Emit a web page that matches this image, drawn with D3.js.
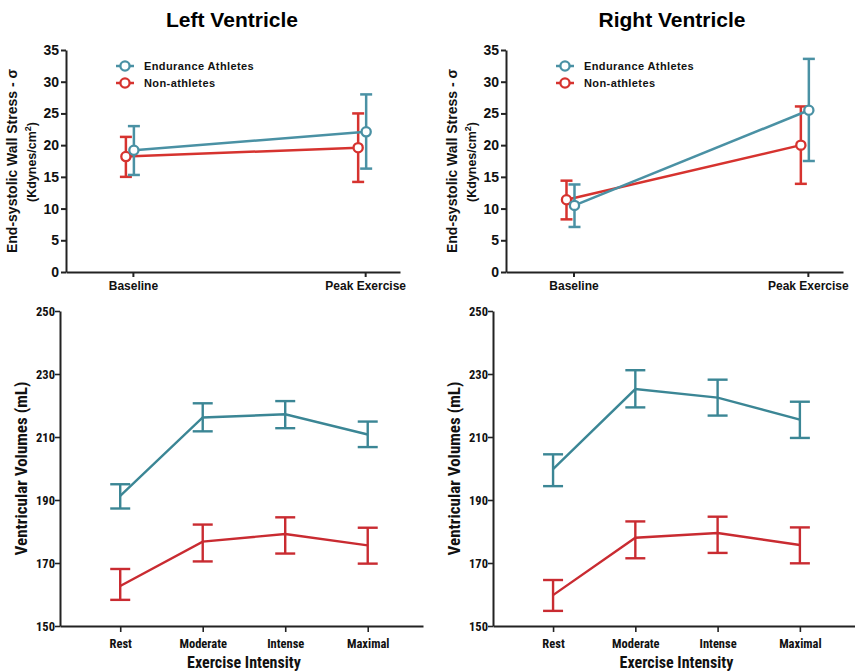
<!DOCTYPE html>
<html><head><meta charset="utf-8">
<script src="https://cdn.jsdelivr.net/npm/d3@7"></script>
<style>
body{margin:0;background:#fff;}
svg{display:block;}
</style></head>
<body>
<svg id="chart" width="855" height="672"></svg>
<script>
// ---- Data ----
const stressCategories = ["Baseline", "Peak Exercise"];
const stressTicks = [0, 5, 10, 15, 20, 25, 30, 35];
const lvStressAthletes = [19.2, 22.1];
const lvStressAthletesLow = [15.3, 16.3];
const lvStressAthletesHigh = [23.0, 28.0];
const lvStressNon = [18.2, 19.6];
const lvStressNonLow = [15.0, 14.2];
const lvStressNonHigh = [21.3, 25.0];
const rvStressAthletes = [10.5, 25.5];
const rvStressAthletesLow = [7.1, 17.5];
const rvStressAthletesHigh = [13.8, 33.6];
const rvStressNon = [11.4, 20.0];
const rvStressNonLow = [8.3, 13.9];
const rvStressNonHigh = [14.4, 26.1];

const volCategories = ["Rest", "Moderate", "Intense", "Maximal"];
const volTicks = [150, 170, 190, 210, 230, 250];
const lvVolAthletes = [191.3, 216.2, 217.2, 210.8];
const lvVolAthletesLow = [187.3, 211.8, 212.8, 206.8];
const lvVolAthletesHigh = [195.0, 220.7, 221.4, 214.9];
const lvVolNon = [162.7, 176.8, 179.2, 175.6];
const lvVolNonLow = [158.3, 170.5, 173.0, 169.8];
const lvVolNonHigh = [168.1, 182.2, 184.5, 181.2];
const rvVolAthletes = [199.8, 225.2, 222.5, 215.5];
const rvVolAthletesLow = [194.4, 219.4, 216.8, 209.7];
const rvVolAthletesHigh = [204.5, 231.2, 228.2, 221.2];
const rvVolNon = [159.8, 178.0, 179.5, 175.7];
const rvVolNonLow = [154.8, 171.5, 173.2, 169.9];
const rvVolNonHigh = [164.6, 183.2, 184.7, 181.3];

const seriesNames = ["Endurance Athletes", "Non-athletes"];
const titles = ["Left Ventricle", "Right Ventricle"];

// ---- Styles ----
const tealTop = "#4a91a4", redTop = "#d6332f";
const tealBot = "#3b8695", redBot = "#c92b31";
const armo = "Liberation Sans, Arial, sans-serif";
const narrow = "'Liberation Sans Narrow', 'Arial Narrow', 'Roboto Condensed', sans-serif";

const svg = d3.select("#chart");

function mk(arr, lo, hi){ return arr.map((v,i)=>({i, v, lo: lo[i], hi: hi[i]})); }

// ---------- Top panels ----------
function stressPanel(cfg){
  const g = svg.append("g");
  const x = d3.scaleLinear().domain([-0.288, 1.15]).range([cfg.x0, cfg.x1]);
  const y = d3.scaleLinear().domain([0, 35]).range([272, 50]);

  g.append("text").attr("x", cfg.titleX).attr("y", 27).attr("text-anchor","middle")
    .attr("font-family", armo).attr("font-weight","bold").attr("font-size", 21).text(cfg.title);

  const yAxis = g.append("g").attr("transform", `translate(${cfg.x0},0)`)
    .call(d3.axisLeft(y).tickValues(stressTicks).tickSize(5).tickSizeOuter(0));
  const xAxis = g.append("g").attr("transform", `translate(0,272)`)
    .call(d3.axisBottom(x).tickValues([0,1]).tickFormat(i=>stressCategories[i]).tickSize(5).tickSizeOuter(0));
  [yAxis, xAxis].forEach(a=>{
    a.select(".domain").attr("stroke","#222").attr("stroke-width",2);
    a.selectAll(".tick line").attr("stroke","#222").attr("stroke-width",2);
    a.selectAll("text").attr("font-family", armo).attr("font-weight","bold").attr("fill","#111");
  });
  yAxis.selectAll(".tick text").attr("font-size", 14).attr("x", -7);
  xAxis.selectAll(".tick text").attr("font-size", 12).attr("dy", "0.8em");

  // y labels
  const cy = (y(0)+y(35))/2;
  g.append("text").attr("transform", `translate(${cfg.x0-49},${cy}) rotate(-90)`)
    .attr("text-anchor","middle").attr("font-family", armo).attr("font-weight","bold").attr("font-size",14)
    .attr("fill","#111").text("End-systolic Wall Stress - \u03c3");
  const t2 = g.append("text").attr("transform", `translate(${cfg.x0-30},${cy+1}) rotate(-90)`)
    .attr("text-anchor","middle").attr("font-family", armo).attr("font-weight","bold").attr("font-size",12.5)
    .attr("fill","#111");
  t2.append("tspan").text("(Kdynes/cm");
  t2.append("tspan").attr("baseline-shift","super").attr("font-size",9).text("2");
  t2.append("tspan").text(")");

  const series = [
    {data: mk(cfg.non, cfg.nonLo, cfg.nonHi), color: redTop, off: -7},
    {data: mk(cfg.ath, cfg.athLo, cfg.athHi), color: tealTop, off: 1}
  ];
  series.forEach(s=>{
    const px = d => x(d.i) + s.off;
    g.append("path").datum(s.data).attr("fill","none").attr("stroke", s.color).attr("stroke-width",2.5)
      .attr("d", d3.line().x(px).y(d=>y(d.v)));
    const eb = g.append("g").selectAll("g").data(s.data).join("g");
    eb.append("line").attr("x1",px).attr("x2",px).attr("y1",d=>y(d.lo)).attr("y2",d=>y(d.hi))
      .attr("stroke", s.color).attr("stroke-width",2.5);
    eb.append("line").attr("x1",d=>px(d)-6).attr("x2",d=>px(d)+6).attr("y1",d=>y(d.lo)).attr("y2",d=>y(d.lo))
      .attr("stroke", s.color).attr("stroke-width",2.5);
    eb.append("line").attr("x1",d=>px(d)-6).attr("x2",d=>px(d)+6).attr("y1",d=>y(d.hi)).attr("y2",d=>y(d.hi))
      .attr("stroke", s.color).attr("stroke-width",2.5);
    eb.append("circle").attr("cx",px).attr("cy",d=>y(d.v)).attr("r",4.6)
      .attr("fill","#fff").attr("stroke", s.color).attr("stroke-width",2.3);
  });

  // legend
  const lg = g.append("g").attr("transform", `translate(${cfg.legX},66)`);
  [{n: seriesNames[0], c: tealTop},{n: seriesNames[1], c: redTop}].forEach((it,k)=>{
    const r = lg.append("g").attr("transform", `translate(0,${k*17})`);
    r.append("line").attr("x1",0).attr("x2",18).attr("y1",0).attr("y2",0).attr("stroke",it.c).attr("stroke-width",2.5);
    r.append("circle").attr("cx",9).attr("cy",0).attr("r",4.6).attr("fill","#fff").attr("stroke",it.c).attr("stroke-width",2.3);
    r.append("text").attr("x",28).attr("y",4).attr("font-family",armo).attr("font-weight","bold")
      .attr("font-size",11).attr("letter-spacing",0.4).attr("fill","#111").text(it.n);
  });
}

stressPanel({x0:66, x1:400, titleX:232, title:titles[0], legX:116,
  ath: lvStressAthletes, athLo: lvStressAthletesLow, athHi: lvStressAthletesHigh,
  non: lvStressNon, nonLo: lvStressNonLow, nonHi: lvStressNonHigh});
stressPanel({x0:506, x1:843, titleX:672, title:titles[1], legX:556,
  ath: rvStressAthletes, athLo: rvStressAthletesLow, athHi: rvStressAthletesHigh,
  non: rvStressNon, nonLo: rvStressNonLow, nonHi: rvStressNonHigh});

// ---------- Bottom panels ----------
function volPanel(cfg){
  const g = svg.append("g");
  const x = d3.scaleLinear().domain([-0.73, 3.67]).range([cfg.x0, cfg.x1]);
  const y = d3.scaleLinear().domain([150, 250]).range([626, 311]);

  const yAxis = g.append("g").attr("transform", `translate(${cfg.x0},0)`)
    .call(d3.axisLeft(y).tickValues(volTicks).tickSize(5).tickSizeOuter(0));
  const xAxis = g.append("g").attr("transform", `translate(0,626)`)
    .call(d3.axisBottom(x).tickValues([0,1,2,3]).tickFormat(i=>volCategories[i]).tickSize(6).tickSizeOuter(0));
  [yAxis, xAxis].forEach(a=>{
    a.select(".domain").attr("stroke","#222").attr("stroke-width",2);
    a.selectAll(".tick line").attr("stroke","#222").attr("stroke-width",1.6);
    a.selectAll("text").attr("font-family", narrow).attr("font-weight","bold").attr("font-size",12.5).attr("fill","#111");
  });
  yAxis.selectAll(".tick text").attr("x",-5);
  xAxis.selectAll(".tick text").attr("dy","1.0em");

  const cy = (y(150)+y(250))/2;
  g.append("text").attr("transform", `translate(${cfg.x0-33},${cy}) rotate(-90)`)
    .attr("text-anchor","middle").attr("font-family", narrow).attr("font-weight","bold").attr("font-size",17)
    .attr("fill","#111").text("Ventricular Volumes (mL)");
  g.append("text").attr("x", x(1.5)).attr("y", 668).attr("text-anchor","middle")
    .attr("font-family", narrow).attr("font-weight","bold").attr("font-size",16)
    .attr("fill","#111").text("Exercise Intensity");

  const series = [
    {data: mk(cfg.ath, cfg.athLo, cfg.athHi), color: tealBot},
    {data: mk(cfg.non, cfg.nonLo, cfg.nonHi), color: redBot}
  ];
  series.forEach(s=>{
    const px = d => x(d.i);
    g.append("path").datum(s.data).attr("fill","none").attr("stroke", s.color).attr("stroke-width",2.4)
      .attr("d", d3.line().x(px).y(d=>y(d.v)));
    const eb = g.append("g").selectAll("g").data(s.data).join("g");
    eb.append("line").attr("x1",px).attr("x2",px).attr("y1",d=>y(d.lo)).attr("y2",d=>y(d.hi))
      .attr("stroke", s.color).attr("stroke-width",2.4);
    [d=>d.lo, d=>d.hi].forEach(f=>{
      eb.append("line").attr("x1",d=>px(d)-10).attr("x2",d=>px(d)+10).attr("y1",d=>y(f(d))).attr("y2",d=>y(f(d)))
        .attr("stroke", s.color).attr("stroke-width",2.4);
    });
  });
}

volPanel({x0:60, x1:423,
  ath: lvVolAthletes, athLo: lvVolAthletesLow, athHi: lvVolAthletesHigh,
  non: lvVolNon, nonLo: lvVolNonLow, nonHi: lvVolNonHigh});
volPanel({x0:493, x1:855,
  ath: rvVolAthletes, athLo: rvVolAthletesLow, athHi: rvVolAthletesHigh,
  non: rvVolNon, nonLo: rvVolNonLow, nonHi: rvVolNonHigh});
</script>
</body></html>
